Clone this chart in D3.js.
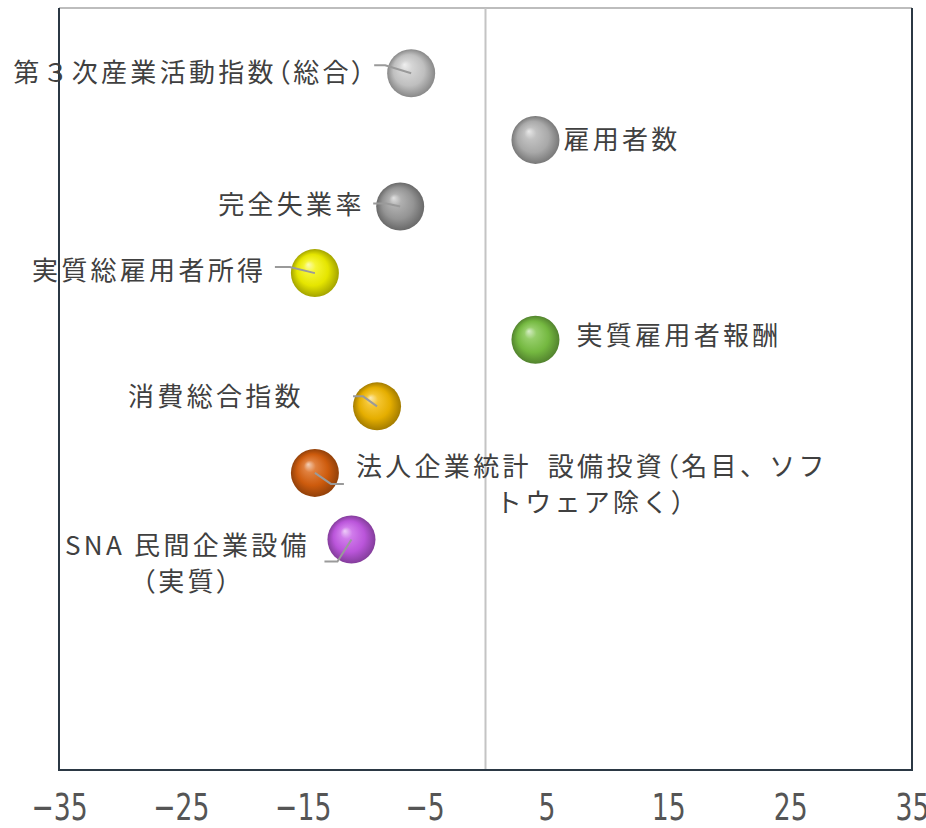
<!DOCTYPE html>
<html>
<head>
<meta charset="utf-8">
<script src="https://cdn.jsdelivr.net/npm/d3@7"></script>
<style>
  html, body { margin: 0; padding: 0; background: #ffffff; }
  svg { display: block; }
</style>
</head>
<body>
<div id="chart"></div>
<script>
// ---- data ----
const names = [
  "第３次産業活動指数（総合）",
  "雇用者数",
  "完全失業率",
  "実質総雇用者所得",
  "実質雇用者報酬",
  "消費総合指数",
  "法人企業統計　設備投資（名目、ソフトウェア除く）",
  "SNA 民間企業設備（実質）"
];
const xValues = [-6.1, 4.1, -7.0, -14.0, 4.1, -8.9, -14.0, -11.0];
const yRanks  = [1, 2, 3, 4, 5, 6, 7, 8];
const colors  = ["#cacaca", "#b2b2b2", "#9c9c9c", "#f2f200", "#7ac244", "#f2b800", "#d8600e", "#c45ae6"];
const labelLines = [
  ["第３次産業活動指数（総合）"],
  ["雇用者数"],
  ["完全失業率"],
  ["実質総雇用者所得"],
  ["実質雇用者報酬"],
  ["消費総合指数"],
  ["法人企業統計　設備投資（名目、ソフ", "トウェア除く）"],
  ["SNA 民間企業設備", "（実質）"]
];
const xTicks = [-35, -25, -15, -5, 5, 15, 25, 35];

// ---- layout (styling) ----
const W = 926, H = 828;
const plot = { left: 59, right: 912, top: 8, bottom: 770 };
const R = 24;
// label placement relative to bubble center: [dx, dy, anchor]
const labelPos = [
  [-398, 0, "start"],
  [28, 0, "start"],
  [-182, -2, "start"],
  [-283, -2, "start"],
  [41, -4, "start"],
  [-249, -9, "start"],
  [277, -6, "middle"],
  [-164, 6, "middle"]
];
const leaders = [
  [[-37, -8], [-26, -8], [0, 0]],
  null,
  [[-27, -3], [-14, -3], [0, 0]],
  [[-40, -6], [-25, -6], [0, 0]],
  null,
  [[-24, -10], [-14, -10], [0, 0]],
  [[0, 0], [16, 11], [29, 11]],
  [[0, 0], [-14, 22], [-27, 22]]
];

const x = d3.scaleLinear().domain([-35, 35]).range([plot.left, plot.right]);
const y = d3.scaleLinear().domain([0.02, 11.46]).range([plot.top, plot.bottom]);

const svg = d3.select("#chart").append("svg").attr("width", W).attr("height", H);
const defs = svg.append("defs");

colors.forEach((c, i) => {
  const g = defs.append("radialGradient").attr("id", "sph" + i)
    .attr("cx", "50%").attr("cy", "50%").attr("r", "50%")
    .attr("fx", "36%").attr("fy", "32%");
  const base = d3.color(c);
  g.append("stop").attr("offset", "0%").attr("stop-color", d3.interpolateRgb(c, "#ffffff")(0.7));
  g.append("stop").attr("offset", "25%").attr("stop-color", d3.interpolateRgb(c, "#ffffff")(0.2));
  g.append("stop").attr("offset", "65%").attr("stop-color", base.darker(0.15));
  g.append("stop").attr("offset", "90%").attr("stop-color", base.darker(0.8));
  g.append("stop").attr("offset", "100%").attr("stop-color", base.darker(1.1));
});

// frame
svg.append("line").attr("x1", plot.left).attr("x2", plot.right).attr("y1", plot.top).attr("y2", plot.top)
  .attr("stroke", "#bdbdbd").attr("stroke-width", 2);
svg.append("line").attr("x1", x(0)).attr("x2", x(0)).attr("y1", plot.top).attr("y2", plot.bottom)
  .attr("stroke", "#c4c4c4").attr("stroke-width", 2);
svg.append("line").attr("x1", plot.left).attr("x2", plot.left).attr("y1", plot.top).attr("y2", plot.bottom + 1)
  .attr("stroke", "#2b3844").attr("stroke-width", 2);
svg.append("line").attr("x1", plot.right).attr("x2", plot.right).attr("y1", plot.top).attr("y2", plot.bottom + 1)
  .attr("stroke", "#2b3844").attr("stroke-width", 2);
svg.append("line").attr("x1", plot.left - 1).attr("x2", plot.right + 1).attr("y1", plot.bottom).attr("y2", plot.bottom)
  .attr("stroke", "#2b3844").attr("stroke-width", 2);

// x axis
const ax = svg.append("g").attr("transform", `translate(0,${plot.bottom})`)
  .call(d3.axisBottom(x).tickValues(xTicks).tickSize(0).tickFormat(d => d < 0 ? "\u2212" + Math.abs(d) : d));
ax.select(".domain").remove();
ax.selectAll("text")
  .attr("dy", 0).attr("y", 50)
  .attr("transform", "scale(0.78,1)")
  .attr("fill", "#555555")
  .style("font-family", "'Liberation Sans Narrow', 'DejaVu Sans Condensed', sans-serif")
  .style("font-size", "38px");

const data = names.map((n, i) => ({ n, x: xValues[i], y: yRanks[i], i }));

// bubbles
svg.append("g").selectAll("circle").data(data).join("circle")
  .attr("cx", d => x(d.x)).attr("cy", d => y(d.y)).attr("r", R)
  .attr("fill", d => `url(#sph${d.i})`);

// leaders
const lineGen = d3.line();
svg.append("g").selectAll("path").data(data.filter(d => leaders[d.i])).join("path")
  .attr("d", d => lineGen(leaders[d.i].map(p => [x(d.x) + p[0], y(d.y) + p[1]])))
  .attr("fill", "none").attr("stroke", "#9a9a9a").attr("stroke-width", 2);

// labels
const lg = svg.append("g")
  .style("font-family", "'Noto Sans CJK JP', 'Noto Sans', sans-serif")
  .style("font-size", "26px").attr("fill", "#404040");
data.forEach(d => {
  const p = labelPos[d.i];
  const lines = labelLines[d.i];
  const t = lg.append("text")
    .attr("x", x(d.x) + p[0]).attr("y", y(d.y) + p[1])
    .attr("text-anchor", p[2])
    .style("letter-spacing", "3.3px");
  lines.forEach((s, k) => {
    const ts = t.append("tspan").attr("x", x(d.x) + p[0]).attr("dy", k === 0 ? "0.35em" : "1.38em");
    // render full-width parentheses/space narrower, as in the reference
    s.split(/([（）　])/).filter(part => part.length).forEach(part => {
      const sub = ts.append("tspan").text(part);
      if (part === "（" || part === "）") sub.style("font-feature-settings", "'palt'");
      if (part === "　") sub.style("letter-spacing", "-10px");
    });
  });
});
</script>
</body>
</html>
